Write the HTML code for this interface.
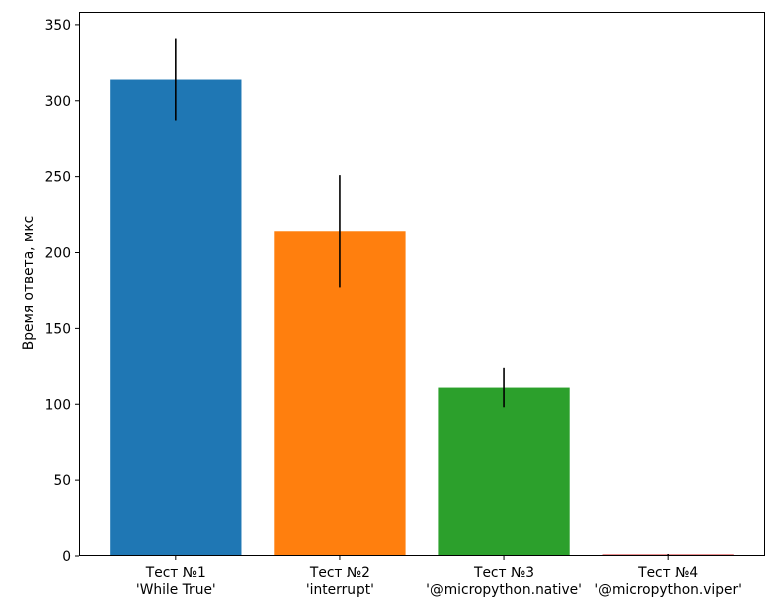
<!DOCTYPE html>
<html><head><meta charset="utf-8"><style>
body{margin:0;background:#fff}
svg text{font-family:"DejaVu Sans","Liberation Sans",sans-serif;font-size:13.8px;fill:#000}
</style></head><body>
<svg id="chart" width="778" height="599" xmlns="http://www.w3.org/2000/svg"></svg>
<script>
const categories=["Тест №1\n'While True'","Тест №2\n'interrupt'","Тест №3\n'@micropython.native'","Тест №4\n'@micropython.viper'"];
const values=[314,214,111,1];
const errors=[27,37,13,0.3];
const colors=["#1f77b4","#ff7f0e","#2ca02c","#d62728"];
const yTicks=[0,50,100,150,200,250,300,350];
const NS="http://www.w3.org/2000/svg";
const svg=document.getElementById('chart');
const L=79,R=765,T=12,B=556;
const xmin=-0.59,xmax=3.59,ymax=358.5;
const x=v=>L+(v-xmin)/(xmax-xmin)*(R-L);
const y=v=>B-v/ymax*(B-T);
function mk(t,a){const e=document.createElementNS(NS,t);for(const k in a)e.setAttribute(k,a[k]);svg.appendChild(e);return e;}
values.forEach((v,i)=>{
  const r=mk('rect',{x:x(i-0.4),y:y(v),width:x(i+0.4)-x(i-0.4),height:B-y(v),fill:colors[i]});
  
  
  const l=mk('line',{x1:x(i),x2:x(i),y1:y(v+errors[i]),y2:y(v-errors[i]),stroke:'#000','stroke-width':1.6});
  
  
  mk('line',{x1:x(i),x2:x(i),y1:B,y2:B+4,stroke:'#000'});
  const lines=categories[i].split('\n');
  lines.forEach((s,j)=>{
    const t=mk('text',{x:x(i),y:B+21+j*17,'text-anchor':'middle'});
    t.textContent=s;
    
    
  });
});
yTicks.forEach(v=>{
  mk('line',{x1:L-4,x2:L,y1:y(v),y2:y(v),stroke:'#000'});
  const t=mk('text',{x:L-8,y:y(v)+5,'text-anchor':'end'});
  t.textContent=v;
  
  
});
const fr=mk('rect',{x:L+0.5,y:T+0.5,width:R-L-1,height:B-T-1,fill:'none',stroke:'#000'});


const yt=mk('text',{x:33,y:(T+B)/2-1,'text-anchor':'middle',transform:`rotate(-90 33 ${(T+B)/2-1})`});
yt.textContent='Время ответа, мкс';


</script>
</body></html>
